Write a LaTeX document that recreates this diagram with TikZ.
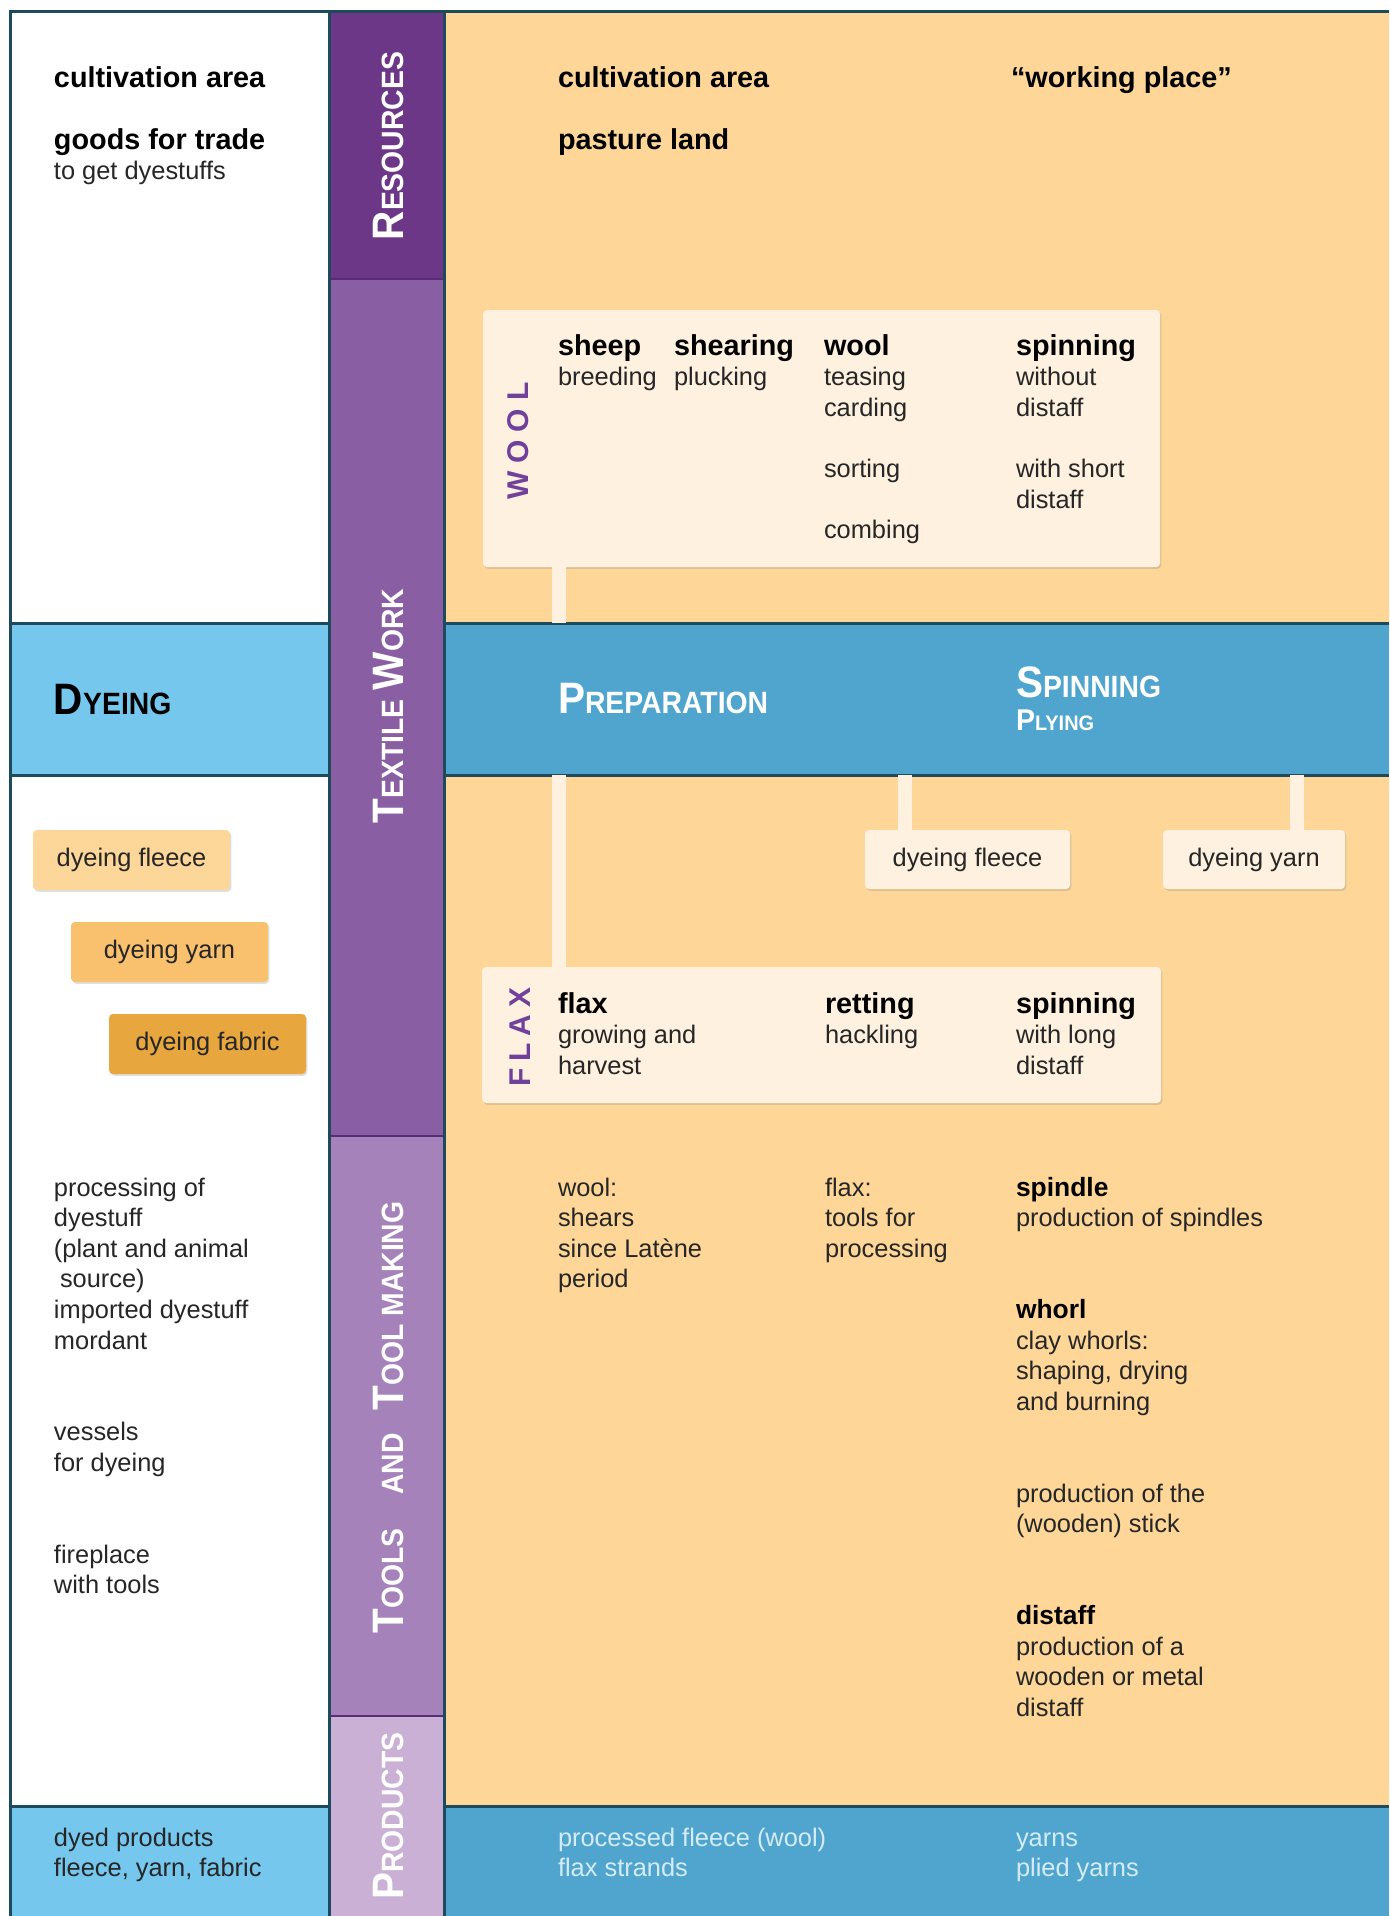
\documentclass[tikz,border=0pt]{standalone}
\usepackage{fontspec}
\setmainfont{Liberation Sans}
\usepackage{graphicx}
\usetikzlibrary{shadows}
\definecolor{resC}{HTML}{6B3786}
\definecolor{texC}{HTML}{8A5EA2}
\definecolor{tooC}{HTML}{A682BA}
\definecolor{proC}{HTML}{CBB0D5}
\definecolor{peach}{HTML}{FDD698}
\definecolor{lblue}{HTML}{76C7EE}
\definecolor{mblue}{HTML}{4FA5CE}
\definecolor{cream}{HTML}{FEF1DF}
\definecolor{frameC}{HTML}{1D4A5C}
\definecolor{sepC}{HTML}{5A2C78}
\definecolor{ink}{HTML}{262626}
\definecolor{pale}{HTML}{D5ECF7}
\definecolor{labC}{HTML}{70409A}
\definecolor{dfl}{HTML}{FDD699}
\definecolor{dya}{HTML}{F9C06D}
\definecolor{dfa}{HTML}{E8A63E}
\newcommand\ntxt{\fontsize{12.7}{15.3}\selectfont}
\newcommand\btxt{\fontsize{14.4}{15.3}\selectfont\bfseries\color{black}}
\newcommand\mbtxt{\fontsize{13.2}{15.3}\selectfont\bfseries\color{black}}
\newcommand\bsc[2]{{\bfseries\fontsize{22}{24}\selectfont #1\fontsize{15.4}{17}\selectfont #2}}
\newcommand\ttl[2]{\scalebox{0.92}[1]{\bsc{#1}{#2}}}
\newcommand\blk[1]{\begin{tabular}[t]{@{}l@{}}#1\end{tabular}}
\tikzset{
  every node/.style={inner sep=0pt, outer sep=0pt},
  txt/.style={anchor=base west, font=\ntxt, text=ink},
  vtitle/.style={rotate=90, anchor=base, text=white},
  cbox/.style={fill=cream, rounded corners=2pt,
    drop shadow={shadow xshift=0.7pt, shadow yshift=-0.9pt, opacity=0.25}},
  conn/.style={draw=cream, line width=7pt},
  rule/.style={draw=frameC, line width=1.5pt},
  seprule/.style={draw=sepC, line width=1pt},
}
\begin{document}
\begin{tikzpicture}[x=0.5pt, y={(0pt,-0.5pt)}]
\useasboundingbox (0,0) rectangle (1389,1916);
\fill[white] (0,0) rectangle (1389,1916);
% backgrounds
\fill[peach] (444,12) rectangle (1389,1916);
\fill[resC] (329,12) rectangle (444,279);
\fill[texC] (329,279) rectangle (444,1136);
\fill[tooC] (329,1136) rectangle (444,1716);
\fill[proC] (329,1716) rectangle (444,1916);
\fill[lblue] (10,623) rectangle (329,775);
\fill[mblue] (444,623) rectangle (1389,775);
\fill[lblue] (10,1806) rectangle (329,1916);
\fill[mblue] (444,1806) rectangle (1389,1916);
% rules
\draw[seprule] (329,279) -- (444,279);
\draw[seprule] (329,1136) -- (444,1136);
\draw[seprule] (329,1716) -- (444,1716);
\draw[rule] (10,1916) -- (10,12) -- (1389,12);
\draw[rule] (329,12) -- (329,1916);
\draw[rule] (444,12) -- (444,1916);
\foreach \yy in {623,775,1806}{
  \draw[rule] (10,\yy) -- (329,\yy);
  \draw[rule] (444,\yy) -- (1389,\yy);
}
\coordinate (bandtop) at (444,623);
\coordinate (bandbot) at (444,775);
\coordinate (cw) at (559,0);
\coordinate (cf) at (905,0);
\coordinate (cy) at (1297,0);
% boxes
\node[cbox, minimum width=338.5pt, minimum height=128.5pt, anchor=north west] (woolbox) at (483,310) {};
\node[cbox, minimum width=339.5pt, minimum height=68pt, anchor=north west] (flaxbox) at (482,967) {};
\node[cbox, minimum width=102.5pt, minimum height=29.5pt, anchor=north west, font=\ntxt, text=ink] (rfleece) at (865,830) {dyeing fleece};
\node[cbox, minimum width=91pt, minimum height=29.5pt, anchor=north west, font=\ntxt, text=ink] (ryarn) at (1163,830) {dyeing yarn};
\node[cbox, fill=dfl, minimum width=98.5pt, minimum height=30pt, anchor=north west, font=\ntxt, text=ink] (lfleece) at (33,830) {dyeing fleece};
\node[cbox, fill=dya, minimum width=98.5pt, minimum height=30pt, anchor=north west, font=\ntxt, text=ink] (lyarn) at (71,922) {dyeing yarn};
\node[cbox, fill=dfa, minimum width=98.5pt, minimum height=30pt, anchor=north west, font=\ntxt, text=ink] (lfabric) at (109,1014) {dyeing fabric};
% connectors
\draw[conn] (cw |- woolbox.south) -- (cw |- bandtop);
\draw[conn] (cw |- bandbot) -- (cw |- flaxbox.north);
\draw[conn] (cf |- bandbot) -- (cf |- rfleece.north);
\draw[conn] (cy |- bandbot) -- (cy |- ryarn.north);
% vertical titles
\node[vtitle] (tres) at (403,146) {\ttl{R}{ESOURCES}};
\node[vtitle] (ttex) at (403,706) {\scalebox{0.92}[1]{\bsc{T}{EXTILE}\hspace{5pt}\bsc{W}{ORK}}};
\node[vtitle] (ttm) at (403,1306) {\ttl{T}{OOL MAKING}};
\node[vtitle] (tand) at (403,1464) {\ttl{}{AND}};
\node[vtitle] (ttools) at (403,1581) {\ttl{T}{OOLS}};
\node[vtitle] (tprod) at (403,1816) {\ttl{P}{RODUCTS}};
\node[rotate=90, anchor=base, text=labC, font=\bfseries\fontsize{15}{16}\selectfont] (wlab) at (528,441) {W\hspace{4pt}O\hspace{4pt}O\hspace{4pt}L};
\node[rotate=90, anchor=base, text=labC, font=\bfseries\fontsize{15}{16}\selectfont] (flab) at (530,1037) {F\hspace{3.5pt}L\hspace{3.5pt}A\hspace{3.5pt}X};
% band titles
\node[anchor=base west, text=black] (tdye) at (54,714) {\ttl{D}{YEING}};
\node[anchor=base west, text=white] (tprep) at (558,713) {\ttl{P}{REPARATION}};
\node[anchor=base west, text=white] (tspin) at (1016,697) {\ttl{S}{PINNING}};
\node[anchor=base west, text=white] (tply) at (1016,730) {\scalebox{0.95}[1]{\bfseries\fontsize{15}{16}\selectfont P\fontsize{10.5}{12}\selectfont LYING}};
% resources texts
\node[txt] (lt) at (54,88) {\blk{\btxt cultivation area\\ \\ \btxt goods for trade\\ to get dyestuffs}};
\node[txt] (rt1) at (558,88) {\blk{\btxt cultivation area\\ \\ \btxt pasture land}};
\node[txt] (rt2) at (1011,88) {\btxt “working place”};
% wool box texts
\node[txt] (w1) at (558,355) {\blk{\btxt sheep\\ breeding}};
\node[txt] (w2) at (674,355) {\blk{\btxt shearing\\ plucking}};
\node[txt] (w3) at (824,355) {\blk{\btxt wool\\ teasing\\ carding\\ \\ sorting\\ \\ combing}};
\node[txt] (w4) at (1016,355) {\blk{\btxt spinning\\ without\\ distaff\\ \\ with short\\ distaff}};
% flax box texts
\node[txt] (f1) at (558,1013) {\blk{\btxt flax\\ growing and\\ harvest}};
\node[txt] (f2) at (825,1013) {\blk{\btxt retting\\ hackling}};
\node[txt] (f3) at (1016,1013) {\blk{\btxt spinning\\ with long\\ distaff}};
% tools texts
\node[txt] (l1) at (54,1196) {\blk{processing of\\ dyestuff\\ (plant and animal\\ \hspace{3pt}source)\\ imported dyestuff\\ mordant\\ \\ \\ vessels\\ for dyeing\\ \\ \\ fireplace\\ with tools}};
\node[txt] (m1) at (558,1196) {\blk{wool:\\ shears\\ since Latène\\ period}};
\node[txt] (m2) at (825,1196) {\blk{flax:\\ tools for\\ processing}};
\node[txt] (r1) at (1016,1196) {\blk{\mbtxt spindle\\ production of spindles\\ \\ \\ \mbtxt whorl\\ clay whorls:\\ shaping, drying\\ and burning\\ \\ \\ production of the\\ (wooden) stick\\ \\ \\ \mbtxt distaff\\ production of a\\ wooden or metal\\ distaff}};
% products texts
\node[txt] (p1) at (54,1846) {\blk{dyed products\\ fleece, yarn, fabric}};
\node[txt, text=pale] (p2) at (558,1846) {\blk{processed fleece (wool)\\ flax strands}};
\node[txt, text=pale] (p3) at (1016,1846) {\blk{yarns\\ plied yarns}};
\end{tikzpicture}
\end{document}
